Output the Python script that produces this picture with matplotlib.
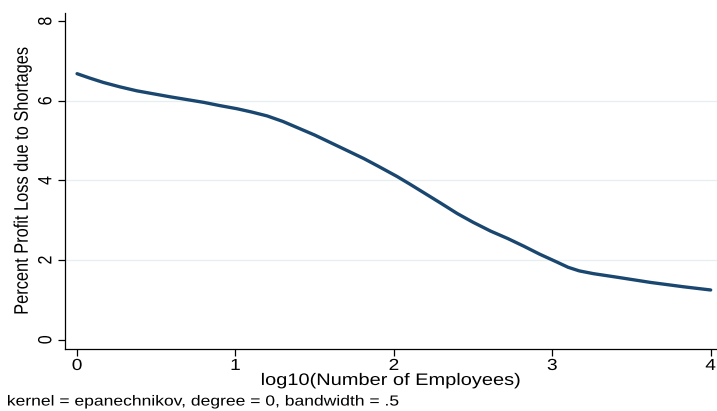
import matplotlib
matplotlib.use("Agg")
import matplotlib.pyplot as plt
from matplotlib.patheffects import AbstractPathEffect
from matplotlib.transforms import Affine2D

# Smoothed profit loss against firm size (epanechnikov kernel, bandwidth .5)
log_employees = [0.0, 0.08, 0.166, 0.27, 0.377, 0.587, 0.80, 0.9, 1.01, 1.1,
                 1.2, 1.3, 1.4, 1.5, 1.6, 1.7, 1.81, 1.9, 2.02, 2.1,
                 2.19, 2.3, 2.4, 2.5, 2.61, 2.72, 2.82, 2.92, 3.03, 3.1,
                 3.17, 3.26, 3.41, 3.62, 3.83, 4.0]
pct_loss = [6.68, 6.57, 6.46, 6.35, 6.25, 6.10, 5.96, 5.88, 5.80, 5.72,
            5.62, 5.48, 5.31, 5.14, 4.95, 4.76, 4.55, 4.36, 4.10, 3.91,
            3.69, 3.42, 3.17, 2.95, 2.73, 2.54, 2.35, 2.15, 1.95, 1.82,
            1.73, 1.66, 1.57, 1.44, 1.33, 1.25]

x_ticks = [0, 1, 2, 3, 4]
y_ticks = [0, 2, 4, 6, 8]
grid_levels = [2, 4, 6]


class WideText(AbstractPathEffect):
    """Draw text glyphs widened horizontally in screen space."""

    def __init__(self, sx, anchor='center'):
        super().__init__()
        self.sx = sx
        self.anchor = anchor

    def draw_path(self, renderer, gc, tpath, affine, rgbFace=None):
        ext = tpath.get_extents(affine)
        cx = ext.x0 if self.anchor == 'left' else 0.5 * (ext.x0 + ext.x1)
        t = affine + Affine2D().translate(-cx, 0).scale(self.sx, 1).translate(cx, 0)
        renderer.draw_path(gc, tpath, t, rgbFace)


STRETCH = 1.2
wide = [WideText(STRETCH)]

plt.rcParams['font.family'] = ['Liberation Sans', 'DejaVu Sans']

fig = plt.figure(figsize=(7.17, 4.11), dpi=100)
ax = fig.add_axes([0.0907, 0.151, 0.9093, 0.817])

for g in grid_levels:
    ax.axhline(g, color='#e6eef0', linewidth=0.9, zorder=0)

ax.plot(log_employees, pct_loss, color='#1a476f', linewidth=2.4,
        solid_capstyle='round', solid_joinstyle='round', zorder=3)

ax.set_xlim(-0.076, 4.04)
ax.set_ylim(-0.23, 8.2)
ax.set_xticks(x_ticks)
ax.set_yticks(y_ticks)
ax.set_xticklabels([str(t) for t in x_ticks], fontsize=11.5)
ax.set_yticklabels([str(t) for t in y_ticks], fontsize=11.5, rotation=90,
                   va='center')
ax.tick_params(axis='x', direction='out', length=5, width=0.9,
               color='black', pad=1.5)
ax.tick_params(axis='y', direction='out', length=5, width=0.9,
               color='black', pad=3.5)
for lab in ax.get_xticklabels() + ax.get_yticklabels():
    lab.set_path_effects(wide)

for side in ['top', 'right']:
    ax.spines[side].set_visible(False)
for side in ['left', 'bottom']:
    ax.spines[side].set_linewidth(0.9)
    ax.spines[side].set_color('black')

ax.set_xlabel('log10(Number of Employees)', fontsize=12, labelpad=0,
              path_effects=wide)
ax.set_ylabel('Percent Profit Loss due to Shortages', fontsize=11.8,
              labelpad=6, path_effects=wide)

fig.text(0.0098, 0.006, 'kernel = epanechnikov, degree = 0, bandwidth = .5',
         fontsize=10.5, ha='left', va='bottom',
         path_effects=[WideText(STRETCH, anchor='left')])

fig.savefig('out.png', dpi=100, facecolor='white')
